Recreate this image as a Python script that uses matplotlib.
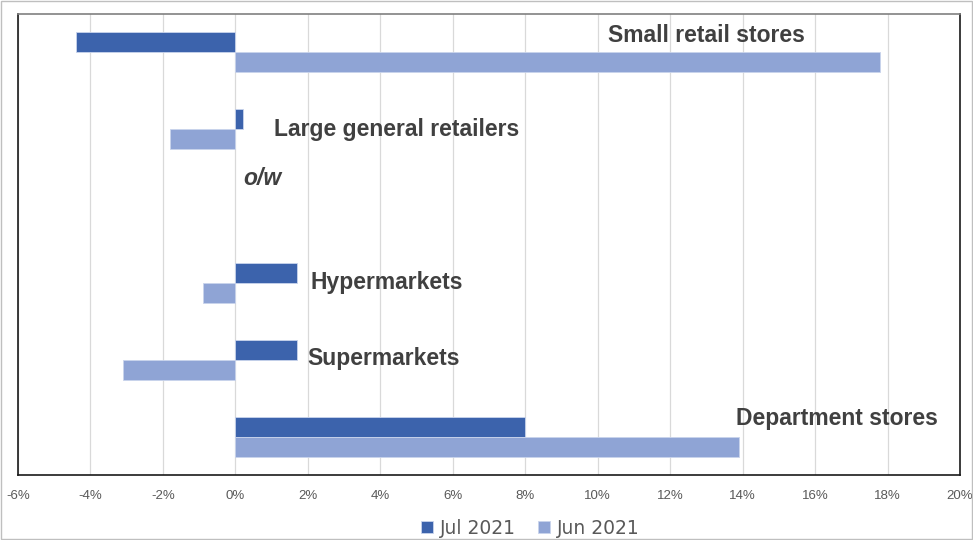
import matplotlib
matplotlib.use("Agg")
import matplotlib.pyplot as plt
import numpy as np

categories = ["Small retail stores", "Large general retailers", "o/w", "Hypermarkets", "Supermarkets", "Department stores"]
jul_2021 = [-4.4, 0.2, np.nan, 1.7, 1.7, 8.0]
jun_2021 = [17.8, -1.8, np.nan, -0.9, -3.1, 13.9]
xticks = [-6, -4, -2, 0, 2, 4, 6, 8, 10, 12, 14, 16, 18, 20]

# label positions (x in %, y in category units)
label_pos = {
    "Small retail stores": (10.28, -0.22),
    "Large general retailers": (1.07, 1.0),
    "o/w": (0.21, 1.64),
    "Hypermarkets": (2.06, 3.0),
    "Supermarkets": (1.98, 3.99),
    "Department stores": (13.82, 4.77),
}

plt.rcParams['font.family'] = ['Liberation Sans', 'DejaVu Sans']

fig = plt.figure(figsize=(9.73, 5.4), dpi=100)
ax = fig.add_axes([18/973, 1-475/540, (960-18)/973, (475-14)/540])

y = np.arange(len(categories))
h = 0.26
c_jul = "#3C63AC"
c_jun = "#8FA4D5"
ax.barh(y - h/2, jul_2021, height=h, color=c_jul, edgecolor="#C9D4EC", linewidth=0.6, label="Jul 2021", zorder=3)
ax.barh(y + h/2, jun_2021, height=h, color=c_jun, edgecolor="#C9D4EC", linewidth=0.6, label="Jun 2021", zorder=3)

ax.set_xlim(-6, 20)
ax.set_ylim(len(categories) - 0.5, -0.5)
ax.set_xticks(xticks)
ax.set_xticklabels([f"{v}%" for v in xticks], fontsize=9.5, color="#595959")
ax.set_yticks([])
ax.tick_params(axis='x', length=0, pad=11)
ax.grid(axis='x', color="#D9D9D9", linewidth=0.9, zorder=0)
for s in ["left", "bottom", "right"]:
    ax.spines[s].set_color("#1a1a1a")
    ax.spines[s].set_linewidth(1.2)
ax.spines["top"].set_color("#808080")
ax.spines["top"].set_linewidth(1.2)

for cat in categories:
    xl, yl = label_pos[cat]
    style = 'italic' if cat == "o/w" else 'normal'
    ax.text(xl, yl, cat, fontsize=16.5, fontweight='bold', fontstyle=style,
            color="#404040", ha='left', va='center', zorder=4)

leg = fig.legend(loc='center', bbox_to_anchor=(0.545, 0.022), ncol=2, frameon=False,
                 prop={'family': 'DejaVu Sans', 'size': 13.5},
                 handlelength=0.65, handleheight=0.65, columnspacing=1.2, handletextpad=0.35,
                 borderpad=0.05)
for t in leg.get_texts():
    t.set_color("#595959")

# outer border
fig.patches.append(matplotlib.patches.Rectangle((0.001, 0.001), 0.998, 0.997, transform=fig.transFigure,
                                                fill=False, edgecolor="#BFBFBF", linewidth=1.0))

fig.savefig("out.png", dpi=100)
